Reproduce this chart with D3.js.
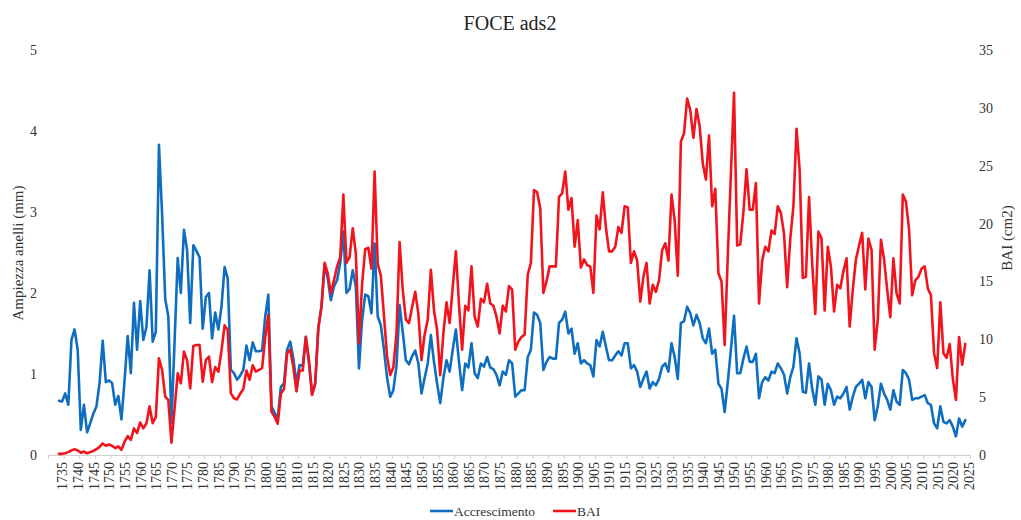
<!DOCTYPE html>
<html>
<head>
<meta charset="utf-8">
<script src="https://cdn.jsdelivr.net/npm/d3@7"></script>
<style>
  html, body { margin: 0; padding: 0; background: #fff; }
  svg { display: block; font-family: "Liberation Serif", "Times New Roman", serif; }
</style>
</head>
<body>
<svg id="chart" width="1021" height="520"></svg>
<script>
// Ring width series (mm), one value per year starting in 1734
const firstYear = 1734;
const accrescimento = [
  0.67,0.66,0.76,0.62,1.42,1.55,1.30,0.31,0.62,0.28,0.39,0.51,0.60,0.89,1.41,0.90,0.92,0.89,0.62,0.73,
  0.44,0.92,1.47,1.01,1.88,1.30,1.90,1.42,1.58,2.28,1.40,1.52,3.83,2.98,1.93,1.71,0.40,1.40,2.43,2.00,
  2.78,2.53,1.63,2.59,2.52,2.44,1.56,1.95,2.00,1.44,1.76,1.55,1.83,2.32,2.18,1.05,
  1.01,0.93,0.98,1.05,1.35,1.17,1.39,1.28,1.28,1.29,1.71,1.98,0.60,0.52,0.45,0.84,0.88,1.30,1.40,1.19,
  0.88,1.11,1.10,1.46,1.13,0.75,0.88,1.58,1.83,2.35,2.18,1.91,2.08,2.16,2.37,2.76,2.00,2.05,2.28,2.08,
  1.07,1.67,1.98,1.96,1.75,2.61,1.71,1.60,1.30,0.95,0.72,0.80,1.10,1.85,1.52,1.17,1.12,1.22,1.29,1.13,
  0.76,0.95,1.13,1.48,1.15,0.88,0.64,0.95,1.17,1.03,1.30,1.55,1.15,0.80,1.13,1.08,1.38,1.01,0.95,1.13,
  1.09,1.21,1.08,1.06,0.99,0.86,1.03,0.99,1.17,1.13,0.72,0.76,0.80,0.80,1.21,1.30,1.76,1.73,1.63,1.05,
  1.15,1.21,1.19,1.19,1.63,1.67,1.77,1.50,1.56,1.25,1.38,1.13,1.17,1.13,1.11,0.97,1.42,1.34,1.52,1.34,
  1.17,1.17,1.23,1.28,1.23,1.38,1.38,1.07,1.11,1.03,0.84,0.94,1.03,0.82,0.90,0.86,0.94,1.09,1.13,1.03,
  1.38,1.21,0.94,1.63,1.65,1.83,1.75,1.60,1.73,1.63,1.44,1.38,1.56,1.25,1.30,0.88,0.82,0.53,0.90,1.30,
  1.72,1.01,1.01,1.19,1.34,1.15,1.15,1.25,0.70,0.90,0.96,0.92,1.03,1.01,1.13,1.07,0.99,0.76,0.96,1.09,
  1.44,1.25,0.78,0.77,1.13,0.82,0.62,0.97,0.93,0.62,0.88,0.80,0.62,0.72,0.70,0.76,0.84,0.56,0.72,0.84,
  0.88,0.93,0.70,0.90,0.84,0.43,0.60,0.88,0.76,0.68,0.56,0.80,0.66,0.62,1.05,1.01,0.93,0.68,0.70,0.70,
  0.72,0.74,0.64,0.62,0.39,0.33,0.60,0.41,0.39,0.43,0.35,0.23,0.45,0.35,0.43
];

// Basal area increment series (cm2), same years
const bai = [
  0.10,0.10,0.15,0.25,0.40,0.50,0.40,0.20,0.30,0.15,0.25,0.35,0.50,0.70,1.00,0.80,0.90,0.80,0.60,0.75,
  0.45,1.15,1.64,1.30,2.30,1.90,2.80,2.30,2.74,4.20,2.74,3.30,8.35,7.35,5.04,4.75,1.07,4.00,7.06,6.20,
  8.93,8.20,5.76,9.42,9.50,9.50,6.34,8.20,8.50,6.30,7.60,7.20,9.00,11.2,10.8,5.33,
  4.90,4.80,5.30,5.70,7.30,6.50,7.75,7.20,7.35,7.50,10.2,12.1,3.75,3.30,2.70,5.30,5.70,8.80,9.10,7.60,
  5.50,7.30,7.30,10.2,8.20,5.20,6.20,10.95,12.8,16.6,15.7,13.97,15.1,16.3,17.1,22.5,16.6,17.1,19.6,17.4,
  9.65,14.8,17.8,17.9,16.1,24.5,16.5,15.5,12.0,8.50,6.90,7.60,10.5,18.4,14.3,11.7,11.4,12.8,14.1,12.2,
  8.20,10.4,11.7,16.0,12.5,10.8,6.90,10.5,13.2,11.4,14.5,17.6,13.0,9.10,12.9,12.5,16.3,11.95,11.1,13.5,
  13.2,14.8,13.1,12.9,11.95,10.5,12.9,12.4,14.6,14.3,9.10,9.80,10.2,10.4,15.6,16.6,22.9,22.7,21.3,14.0,
  15.0,16.3,16.3,16.3,22.3,22.6,24.5,21.2,22.2,18.0,20.3,16.2,16.9,16.4,16.3,14.0,20.7,19.5,22.7,19.7,
  17.6,17.6,18.0,19.7,19.2,21.5,21.4,16.6,17.6,16.8,13.25,15.4,16.6,13.1,14.7,14.1,15.1,17.7,18.3,16.8,
  22.5,20.3,15.5,27.1,27.8,30.8,29.8,27.4,29.9,28.4,25.2,23.8,27.6,21.5,23.0,15.7,15.0,9.50,17.2,24.3,
  31.3,18.1,18.2,21.0,24.7,21.2,21.2,23.5,13.1,16.8,18.0,17.6,19.4,19.1,21.5,20.9,19.1,14.5,18.7,21.5,
  28.2,24.6,15.3,15.4,22.3,16.6,12.2,19.3,18.7,12.5,18.0,16.3,12.4,14.7,14.4,15.9,17.0,11.1,14.3,16.9,
  18.1,19.2,14.3,18.7,17.7,9.10,11.7,18.6,16.9,14.3,11.9,17.0,13.97,13.1,22.5,21.9,19.5,13.8,15.1,15.4,
  16.1,16.3,14.4,13.8,8.80,7.50,13.2,8.80,8.40,9.60,6.60,4.75,10.2,7.80,9.60
];

const years = accrescimento.map((_, i) => firstYear + i);
const yearTicks = d3.range(1735, 2026, 5);
const leftTicks = [0, 1, 2, 3, 4, 5];
const rightTicks = [0, 5, 10, 15, 20, 25, 30, 35];

const chartTitle = "FOCE ads2";
const leftTitle = "Ampiezza anelli (mm)";
const rightTitle = "BAI (cm2)";
const seriesNames = ["Accrescimento", "BAI"];
const colors = { acc: "#0f6ec0", bai: "#f2141c" };

const svg = d3.select("#chart");
const plot = { left: 48, right: 970, top: 50, bottom: 455 };

const x = d3.scaleLinear().domain([1730.5, 2025.5]).range([plot.left, plot.right]);
const yL = d3.scaleLinear().domain([0, 5]).range([plot.bottom, plot.top]);
const yR = d3.scaleLinear().domain([0, 35]).range([plot.bottom, plot.top]);

// Title
svg.append("text")
  .attr("x", 510).attr("y", 30)
  .attr("text-anchor", "middle")
  .attr("font-size", 20)
  .attr("fill", "#222")
  .text(chartTitle);

// Left value axis (labels only)
const gL = svg.append("g")
  .attr("transform", `translate(${plot.left},0)`)
  .call(d3.axisLeft(yL).tickValues(leftTicks).tickSize(0).tickPadding(11).tickFormat(d3.format("d")));
gL.select(".domain").remove();
gL.selectAll("text").attr("font-size", 14).attr("fill", "#333").attr("font-family", "Liberation Serif");

// Right value axis (labels only)
const gR = svg.append("g")
  .attr("transform", `translate(${plot.right},0)`)
  .call(d3.axisRight(yR).tickValues(rightTicks).tickSize(0).tickPadding(9).tickFormat(d3.format("d")));
gR.select(".domain").remove();
gR.selectAll("text").attr("font-size", 14).attr("fill", "#333").attr("font-family", "Liberation Serif");

// Category axis line with tick marks every five years
const gTicks = svg.append("g")
  .attr("transform", `translate(0,${plot.bottom})`)
  .call(d3.axisBottom(x).tickValues(d3.range(1730.5, 2026, 5)).tickSize(4).tickFormat(""));
gTicks.select(".domain").attr("stroke", "#d0d0d0").attr("d", `M${plot.left},0.5H${plot.right}`);
gTicks.selectAll(".tick line").attr("stroke", "#d0d0d0");

// Year labels, rotated
const gX = svg.append("g")
  .attr("transform", `translate(0,${plot.bottom})`)
  .call(d3.axisBottom(x).tickValues(yearTicks).tickSize(0).tickFormat(d3.format("d")));
gX.select(".domain").remove();
gX.selectAll("text")
  .attr("font-size", 14)
  .attr("fill", "#333")
  .attr("font-family", "Liberation Serif")
  .attr("text-anchor", "end")
  .attr("transform", "rotate(-90)")
  .attr("x", -7)
  .attr("y", 0)
  .attr("dy", "0.35em");

// Axis titles
svg.append("text")
  .attr("transform", "translate(23,253) rotate(-90)")
  .attr("text-anchor", "middle")
  .attr("font-size", 15)
  .attr("fill", "#333")
  .text(leftTitle);

svg.append("text")
  .attr("transform", "translate(1012,238) rotate(-90)")
  .attr("text-anchor", "middle")
  .attr("font-size", 15)
  .attr("fill", "#333")
  .text(rightTitle);

// Series lines
const lineL = d3.line().x((d, i) => x(years[i])).y(d => yL(d));
const lineR = d3.line().x((d, i) => x(years[i])).y(d => yR(d));

svg.append("path")
  .datum(accrescimento)
  .attr("fill", "none")
  .attr("stroke", colors.acc)
  .attr("stroke-width", 2.6)
  .attr("stroke-linejoin", "round")
  .attr("stroke-linecap", "round")
  .attr("d", lineL);

svg.append("path")
  .datum(bai)
  .attr("fill", "none")
  .attr("stroke", colors.bai)
  .attr("stroke-width", 2.6)
  .attr("stroke-linejoin", "round")
  .attr("stroke-linecap", "round")
  .attr("d", lineR);

// Legend
const legend = svg.append("g").attr("transform", "translate(0,511)");
const items = [
  { name: seriesNames[0], color: colors.acc, x0: 430 },
  { name: seriesNames[1], color: colors.bai, x0: 553 }
];
items.forEach(it => {
  legend.append("line")
    .attr("x1", it.x0).attr("x2", it.x0 + 23)
    .attr("y1", 0).attr("y2", 0)
    .attr("stroke", it.color).attr("stroke-width", 2.6);
  legend.append("text")
    .attr("x", it.x0 + 24).attr("y", 5)
    .attr("font-size", 13.5)
    .attr("fill", "#333")
    .text(it.name);
});
</script>
</body>
</html>
